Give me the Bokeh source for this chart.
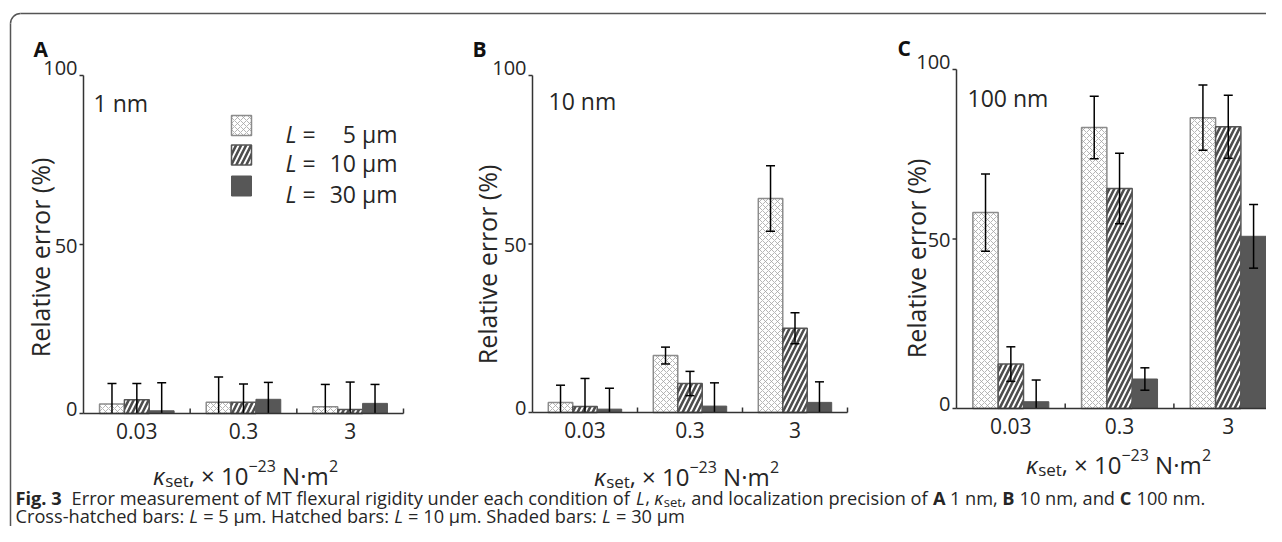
import math
from bokeh.plotting import figure
from bokeh.models import Range1d
from bokeh.core.properties import value
from bokeh.embed import file_html
from bokeh.resources import INLINE

# ---------------- data ----------------
categories = ["0.03", "0.3", "3"]
series_names = ["5 μm", "10 μm", "30 μm"]
y_ticks = [0, 50, 100]
panel_letters = ["A", "B", "C"]
precision_labels = ["1 nm", "10 nm", "100 nm"]

a_5um = [2.8, 3.3, 2.0]
a_5um_err = [6.1, 7.5, 6.6]
a_10um = [4.1, 3.3, 1.2]
a_10um_err = [4.8, 5.4, 8.1]
a_30um = [0.8, 4.2, 3.0]
a_30um_err = [8.3, 5.0, 5.6]

b_5um = [3.0, 16.9, 63.5]
b_5um_err = [5.1, 2.5, 9.7]
b_10um = [1.8, 8.6, 25.0]
b_10um_err = [8.3, 3.6, 4.6]
b_30um = [1.0, 1.9, 3.0]
b_30um_err = [6.2, 6.9, 6.1]

c_5um = [57.8, 82.9, 85.8]
c_5um_err = [11.4, 9.2, 9.6]
c_10um = [13.1, 64.9, 83.1]
c_10um_err = [5.1, 10.4, 9.3]
c_30um = [2.0, 8.7, 50.8]
c_30um_err = [6.4, 3.3, 9.4]

caption_line1 = [("Fig. 3", "bold"), ("  Error measurement of MT flexural rigidity under each condition of ", "normal"),
                 ("L", "italic"), (", ", "normal"), ("κ", "italic"), ("set", "sub"),
                 (", and localization precision of ", "normal"), ("A", "bold"), (" 1 nm, ", "normal"),
                 ("B", "bold"), (" 10 nm, and ", "normal"), ("C", "bold"), (" 100 nm.", "normal")]
caption_line2 = [("Cross-hatched bars: ", "normal"), ("L", "italic"), (" = 5 μm. Hatched bars: ", "normal"),
                 ("L", "italic"), (" = 10 μm. Shaded bars: ", "normal"), ("L", "italic"), (" = 30 μm", "normal")]

# ---------------- styling ----------------
FONT = "Open Sans"
TXT = "#262626"
AX = "#333333"
CW, CH = 1266, 526

W = {' ': 0.26, '%': 0.823, '(': 0.296, ')': 0.296, ',': 0.245, '-': 0.322, '.': 0.266, ':': 0.266,
     '=': 0.572, '×': 0.572, '−': 0.572, '·': 0.266,
     'A': 0.633, 'B': 0.648, 'C': 0.631, 'E': 0.556, 'F': 0.516, 'H': 0.738, 'L': 0.519, 'M': 0.907,
     'N': 0.754, 'R': 0.618, 'S': 0.549, 'T': 0.553,
     'a': 0.556, 'b': 0.613, 'c': 0.48, 'd': 0.613, 'e': 0.561, 'f': 0.336, 'g': 0.546, 'h': 0.614,
     'i': 0.258, 'k': 0.529, 'l': 0.258, 'm': 0.932, 'n': 0.614, 'o': 0.602, 'p': 0.613, 'r': 0.408,
     's': 0.477, 't': 0.353, 'u': 0.614, 'v': 0.5, 'x': 0.523, 'y': 0.5, 'z': 0.468, 'μ': 0.62, 'κ': 0.53}
for d in "0123456789":
    W[d] = 0.572


def tw(s, size, style="normal"):
    f = 1.06 if style == "bold" else (0.97 if style == "italic" else 1.0)
    return sum(W.get(ch, 0.56) for ch in s) * size * f


p = figure(width=CW, height=CH, x_range=Range1d(0, CW), y_range=Range1d(0, CH),
           output_backend="svg", toolbar_location=None, x_axis_type=None, y_axis_type=None,
           min_border=0)
p.outline_line_color = None
p.background_fill_color = "white"


def PX(X):
    return X


def PY(Y):
    return CH - Y


def text(X, Y, s, size, style="normal", align="left", baseline="alphabetic", angle=0.0, color=TXT):
    p.text(x=[PX(X)], y=[PY(Y)], text=[s], text_font=value(FONT), text_font_size=value(f"{size}px"),
           text_font_style=style, text_align=align, text_baseline=baseline, text_color=color,
           angle=angle)


def segments(X, Y, segs, align="left"):
    total = sum(tw(t, s, st) for t, s, st, r in segs)
    x = X - total / 2 if align == "center" else X
    for t, s, st, r in segs:
        lead = len(t) - len(t.lstrip(" "))
        core = t.strip(" ")
        if core:
            text(x + lead * W[' '] * s, Y - r, core, s, st)
        x += tw(t, s, st)


style5 = dict(fill_color="white", line_color="#8c8c8c", line_width=1.5, hatch_pattern="diagonal_cross",
              hatch_color="#a3a3a3", hatch_weight=0.8, hatch_scale=6)
style10 = dict(fill_color="white", line_color="#555555", line_width=1.5, hatch_pattern="right_diagonal_line",
               hatch_color="#4d4d4d", hatch_weight=2.6, hatch_scale=10)
style30 = dict(fill_color="#575757", line_color="#575757", line_width=1)
styles = [style5, style10, style30]

panels = [
    dict(name="a", letter=panel_letters[0], prec=precision_labels[0], vals=[a_5um, a_10um, a_30um],
         errs=[a_5um_err, a_10um_err, a_30um_err], frame=(83, 75, 413), pxx=320 / 3, xright=403,
         letter_pos=(33, 48), prec_pos=(93, 102), ylab=(39, 257), xlab=(245, 475), legend=True),
    dict(name="b", letter=panel_letters[1], prec=precision_labels[1], vals=[b_5um, b_10um, b_30um],
         errs=[b_5um_err, b_10um_err, b_30um_err], frame=(532, 75, 412), pxx=315 / 3, xright=847,
         letter_pos=(472, 48), prec_pos=(548, 100), ylab=(486, 264), xlab=(686, 476), legend=False),
    dict(name="c", letter=panel_letters[2], prec=precision_labels[2], vals=[c_5um, c_10um, c_30um],
         errs=[c_5um_err, c_10um_err, c_30um_err], frame=(956, 69, 408), pxx=108.7, xright=CW,
         letter_pos=(897, 47), prec_pos=(967, 97), ylab=(915, 258), xlab=(1118, 464), legend=False),
]

ex, ey = {}, {}
for cfg in panels:
    fl, ft, fb = cfg["frame"]
    pxx = cfg["pxx"]
    pxy = (fb - ft) / 100.0
    xs0 = -fl / pxx
    ys0 = -(CH - fb) / pxy
    ex[cfg["name"]] = Range1d(xs0, xs0 + CW / pxx)
    ey[cfg["name"]] = Range1d(ys0, ys0 + CH / pxy)
p.extra_x_ranges = ex
p.extra_y_ranges = ey

bw = 0.233
offsets = [-bw, 0.0, bw]
ytick_shift = [-5, 1, -8]  # px, label placement tweak per tick

for cfg in panels:
    n = cfg["name"]
    fl, ft, fb = cfg["frame"]
    pxx = cfg["pxx"]
    pxy = (fb - ft) / 100.0
    xend = (cfg["xright"] - fl) / pxx
    R = dict(x_range_name=n, y_range_name=n)

    # bars
    for vals, off, st in zip(cfg["vals"], offsets, styles):
        xs = [i + 0.5 + off for i in range(len(categories))]
        p.vbar(x=xs, top=vals, bottom=0, width=bw, **st, **R)
    # error bars (clipped at the axis)
    cap = 4.5 / pxx
    for vals, errs, off in zip(cfg["vals"], cfg["errs"], offsets):
        xs = [i + 0.5 + off for i in range(len(categories))]
        hi = [v + e for v, e in zip(vals, errs)]
        lo = [max(0.0, v - e) for v, e in zip(vals, errs)]
        p.segment(x0=xs, y0=lo, x1=xs, y1=hi, line_color="black", line_width=1.5, **R)
        p.segment(x0=[x - cap for x in xs], y0=hi, x1=[x + cap for x in xs], y1=hi,
                  line_color="black", line_width=1.5, **R)
        lx = [x for x, v, e in zip(xs, vals, errs) if v - e > 0]
        ly = [v - e for v, e in zip(vals, errs) if v - e > 0]
        if lx:
            p.segment(x0=[x - cap for x in lx], y0=ly, x1=[x + cap for x in lx], y1=ly,
                      line_color="black", line_width=1.5, **R)

    # axes
    p.segment(x0=[0, 0], y0=[0, 0], x1=[xend, 0], y1=[0, 100], line_color=AX, line_width=1.5, **R)
    p.segment(x0=[-4 / pxx] * len(y_ticks), y0=y_ticks, x1=[0] * len(y_ticks), y1=y_ticks,
              line_color=AX, line_width=1.5, **R)
    bounds = [b for b in range(1, len(categories) + 1) if b <= xend]
    p.segment(x0=bounds, y0=[0] * len(bounds), x1=bounds, y1=[5 / pxy] * len(bounds),
              line_color=AX, line_width=1.5, **R)
    p.text(x=[i + 0.5 for i in range(len(categories))], y=[-17 / pxy] * len(categories), text=categories,
           text_font=value(FONT), text_font_size=value("21px"), text_align="center",
           text_baseline="middle", text_color=TXT, **R)
    p.text(x=[-6 / pxx] * len(y_ticks), y=[t - s / pxy for t, s in zip(y_ticks, ytick_shift)],
           text=[str(t) for t in y_ticks], text_font=value(FONT), text_font_size=value("20px"),
           text_align="right", text_baseline="middle", text_color=TXT, **R)

    # texts
    lx_, ly_ = cfg["letter_pos"]
    text(lx_, ly_, cfg["letter"], 21, "bold", color="#111111")
    px_, py_ = cfg["prec_pos"]
    text(px_, py_, cfg["prec"], 23)
    yx, yy = cfg["ylab"]
    text(yx, yy, "Relative error (%)", 25, align="center", baseline="middle", angle=math.pi / 2)
    xx, xy = cfg["xlab"]
    segments(xx, xy, [("κ", 24, "italic", 0), ("set", 17, "normal", -5), (",", 24, "normal", 0),
                      (" × 10", 24, "normal", 0), ("−23", 16, "normal", 10),
                      (" N·m", 24, "normal", 0), ("2", 16, "normal", 10)], align="center")

    if cfg["legend"]:
        rows_y = [125, 154.5, 185.5]
        for st, yc, name in zip(styles, rows_y, series_names):
            p.scatter(x=[(241 - fl) / pxx], y=[(fb - yc) / pxy], marker="square", size=20, **st, **R)
            text(285, yc + 8, "L", 23, "italic")
            text(302, yc + 8, "=", 23)
            text(397, yc + 8, name, 23, align="right")

# ---------------- frame border ----------------
p.segment(x0=[PX(10), PX(20)], y0=[PY(23), PY(13)], x1=[PX(10), PX(1300)], y1=[PY(560), PY(13)],
          line_color="#555555", line_width=1.5)
p.arc(x=[PX(20)], y=[PY(23)], radius=10, start_angle=math.pi / 2, end_angle=math.pi,
      line_color="#555555", line_width=1.5)

# ---------------- caption ----------------
def caption_segs(items, size):
    out = []
    for t, st in items:
        if st == "sub":
            out.append((t, round(size * 0.7), "normal", -4))
        else:
            out.append((t, size, st, 0))
    return out


segments(15, 497, caption_segs(caption_line1, 18.2))
segments(15, 515, caption_segs(caption_line2, 18.2))

open("out.html", "w").write(file_html(p, INLINE))
